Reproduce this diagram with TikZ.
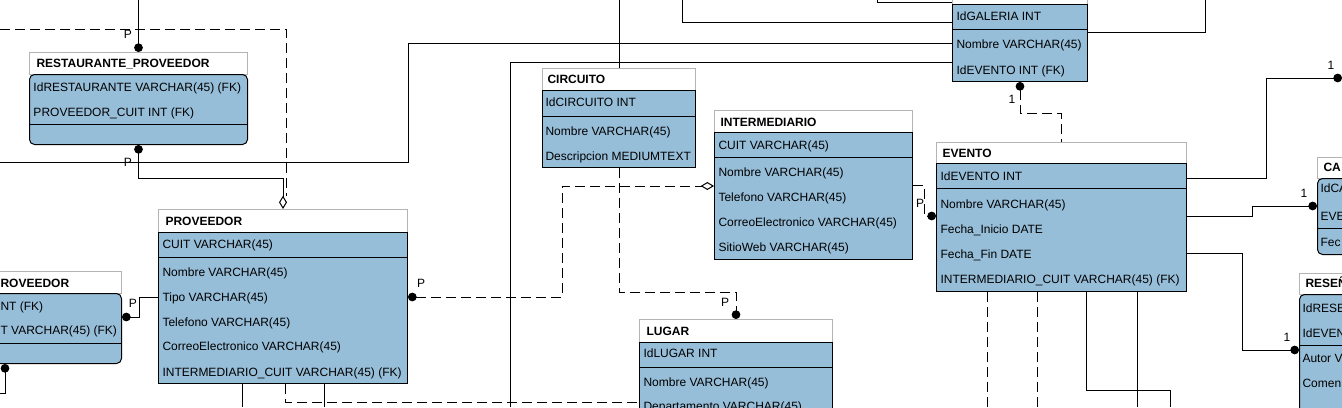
\documentclass[tikz,border=0pt]{standalone}
\usepackage{fontspec}
\setmainfont{Liberation Sans}
\usetikzlibrary{arrows.meta}

\definecolor{tabblue}{RGB}{151,190,217}
\definecolor{headgray}{RGB}{180,180,180}
\newcommand{\pxu}{0.75pt}

\tikzset{
  tabhead/.style={draw=headgray, fill=white, anchor=north west, inner sep=0pt, minimum height=22*\pxu},
  tabbody/.style={draw=black, fill=tabblue, anchor=north west, inner sep=0pt},
  tabtitle/.style={anchor=west, inner sep=0pt, text height=6.5pt, text depth=0pt, font=\fontsize{9}{11}\selectfont\bfseries},
  tabrow/.style={anchor=west, inner sep=0pt, text height=6.5pt, text depth=0pt},
  card/.style={inner sep=0pt, text height=6.5pt, text depth=0pt},
  reldash/.style={dash pattern=on 7.5pt off 3.75pt},
  dotend/.tip={Circle[length=6.5pt]},
  diaend/.tip={Diamond[open,length=10pt,width=6pt]}
}

\begin{document}
\begin{tikzpicture}[x=\pxu, y=-\pxu, line width=0.75pt, every node/.style={font=\fontsize{9}{11}\selectfont}]
\useasboundingbox (0,0) rectangle (1342,407);
\fill[white] (0,0) rectangle (1342,407);
\clip (0,0) rectangle (1342,407);

%tables
\node[tabhead, minimum width=218*\pxu] (rph) at (29,52) {};
\node[tabbody, rounded corners=3.75pt, minimum width=218*\pxu, minimum height=70*\pxu] (rp) at (29,74) {};
\node[tabtitle] (rpt) at (36,63) {RESTAURANTE\_PROVEEDOR};
\node[tabrow] (rp1) at (33,87) {IdRESTAURANTE VARCHAR(45) (FK)};
\node[tabrow] (rp2) at (33,112) {PROVEEDOR\_CUIT INT (FK)};
\draw (rp.west |- 0,124) -- (rp.east |- 0,124);

\node[tabhead, minimum width=221*\pxu] (lph) at (-100,271) {};
\node[tabbody, rounded corners=3.75pt, minimum width=221*\pxu, minimum height=70*\pxu] (lp) at (-100,293) {};
\node[tabtitle] (lpt) at (0,283) {ROVEEDOR};
\node[tabrow] (lp1) at (0,306) {NT (FK)};
\node[tabrow] (lp2) at (0,330) {T VARCHAR(45) (FK)};
\draw (lp.west |- 0,343) -- (lp.east |- 0,343);

\node[tabhead, minimum width=249*\pxu, minimum height=23*\pxu] (pvh) at (158,209) {};
\node[tabbody, minimum width=249*\pxu, minimum height=151*\pxu] (pv) at (158,232) {};
\node[tabtitle] (pvt) at (165,221) {PROVEEDOR};
\node[tabrow] (pv1) at (162,244) {CUIT VARCHAR(45)};
\node[tabrow] (pv2) at (162,272) {Nombre VARCHAR(45)};
\node[tabrow] (pv3) at (162,297) {Tipo VARCHAR(45)};
\node[tabrow] (pv4) at (162,322) {Telefono VARCHAR(45)};
\node[tabrow] (pv5) at (162,346) {CorreoElectronico VARCHAR(45)};
\node[tabrow] (pv6) at (162,372) {INTERMEDIARIO\_CUIT VARCHAR(45) (FK)};
\draw (pv.west |- 0,257) -- (pv.east |- 0,257);

\node[tabhead, minimum width=153*\pxu] (cih) at (542,68) {};
\node[tabbody, minimum width=153*\pxu, minimum height=77*\pxu] (ci) at (542,90) {};
\node[tabtitle] (cit) at (547,79) {CIRCUITO};
\node[tabrow] (ci1) at (545,102) {IdCIRCUITO INT};
\node[tabrow] (ci2) at (545,131) {Nombre VARCHAR(45)};
\node[tabrow] (ci3) at (545,156) {Descripcion MEDIUMTEXT};
\draw (ci.west |- 0,116) -- (ci.east |- 0,116);

\node[tabhead, minimum width=198*\pxu] (imh) at (714,110) {};
\node[tabbody, minimum width=198*\pxu, minimum height=127*\pxu] (im) at (714,132) {};
\node[tabtitle] (imt) at (720,122) {INTERMEDIARIO};
\node[tabrow] (im1) at (718,145) {CUIT VARCHAR(45)};
\node[tabrow] (im2) at (718,172) {Nombre VARCHAR(45)};
\node[tabrow] (im3) at (718,197) {Telefono VARCHAR(45)};
\node[tabrow] (im4) at (718,222) {CorreoElectronico VARCHAR(45)};
\node[tabrow] (im5) at (718,247) {SitioWeb VARCHAR(45)};
\draw (im.west |- 0,157) -- (im.east |- 0,157);

\node[tabhead, minimum width=193*\pxu, minimum height=23*\pxu] (luh) at (639,319) {};
\node[tabbody, minimum width=193*\pxu, minimum height=90*\pxu] (lu) at (639,342) {};
\node[tabtitle] (lut) at (646,331) {LUGAR};
\node[tabrow] (lu1) at (643,353) {IdLUGAR INT};
\node[tabrow] (lu2) at (643,382) {Nombre VARCHAR(45)};
\node[tabrow] (lu3) at (643,406) {Departamento VARCHAR(45)};
\draw (lu.west |- 0,367) -- (lu.east |- 0,367);

\node[tabhead, minimum width=135*\pxu] (gah) at (952,-18) {};
\node[tabbody, minimum width=135*\pxu, minimum height=77*\pxu] (ga) at (952,4) {};
\node[tabrow] (ga1) at (956,16) {IdGALERIA INT};
\node[tabrow] (ga2) at (956,44) {Nombre VARCHAR(45)};
\node[tabrow] (ga3) at (956,70) {IdEVENTO INT (FK)};
\draw (ga.west |- 0,29) -- (ga.east |- 0,29);

\node[tabhead, minimum width=250*\pxu, minimum height=21*\pxu] (evh) at (936,142) {};
\node[tabbody, minimum width=250*\pxu, minimum height=128*\pxu] (ev) at (936,163) {};
\node[tabtitle] (evt) at (942,153) {EVENTO};
\node[tabrow] (ev1) at (940,176) {IdEVENTO INT};
\node[tabrow] (ev2) at (940,204) {Nombre VARCHAR(45)};
\node[tabrow] (ev3) at (940,229) {Fecha\_Inicio DATE};
\node[tabrow] (ev4) at (940,254) {Fecha\_Fin DATE};
\node[tabrow] (ev5) at (940,279) {INTERMEDIARIO\_CUIT VARCHAR(45) (FK)};
\draw (ev.west |- 0,188) -- (ev.east |- 0,188);

\node[tabhead, minimum width=150*\pxu, minimum height=21*\pxu] (cah) at (1317,157) {};
\node[tabbody, rounded corners=3.75pt, minimum width=150*\pxu, minimum height=76*\pxu] (ca) at (1317,178) {};
\node[tabtitle] (cat) at (1323,167) {CA};
\node[tabrow] (ca1) at (1320,188) {IdCA};
\node[tabrow] (ca2) at (1320,216) {EVE};
\node[tabrow] (ca3) at (1320,242) {Fec};
\draw (ca.west |- 0,228) -- (ca.east |- 0,228);

\node[tabhead, minimum width=150*\pxu, minimum height=21*\pxu] (reh) at (1299,273) {};
\node[tabbody, rounded corners=3.75pt, minimum width=150*\pxu, minimum height=136*\pxu] (re) at (1299,294) {};
\node[tabtitle] (ret) at (1305,283) {RESEÑ};
\node[tabrow] (re1) at (1302,308) {IdRESE};
\node[tabrow] (re2) at (1302,333) {IdEVEN};
\node[tabrow] (re3) at (1302,358) {Autor V};
\node[tabrow] (re4) at (1302,383) {Comen};
\draw (re.west |- 0,345) -- (re.east |- 0,345);

%free ends at the border
\coordinate (eA) at (0,29);
\coordinate (eB) at (0,162);
\coordinate (eC) at (510,407);
\coordinate (eD) at (682,0);
\coordinate (eE) at (877,0);
\coordinate (eF) at (1205,0);
\coordinate (eG) at (1342,78);
\coordinate (eH) at (0,393);
\coordinate (bot) at (0,407);

%relations
\draw[dotend-] (rph.north) -- (rph.north |- 0,0);
\draw[dotend-diaend] (rp.south) -- ++(0,33) -| (pvh.north);
\draw[reldash, shorten >=10pt] (eA) -| ([xshift=2.25pt]pvh.north);
\draw (eB) -- (408,162) |- (ga.west |- 0,43);
\draw (eC) |- (ga.west |- 0,62);
\draw (eD) |- (ga.west |- 0,22);
\draw (eE) |- (ga.west |- 0,2);
\draw (ga.east |- 0,32) -| (eF);
\draw (cih.north) -- (cih.north |- 0,0);
\draw[reldash,-dotend] (ci.south) -- ++(0,124) -| (luh.north);
\draw[reldash,dotend-diaend] (pv.east |- pv3) -| (562,186) -- (im.west |- 0,186);
\draw[reldash,-dotend] (im.east |- 0,185) -| (924,216) -- (ev.west |- 0,216);
\draw[dotend-] (lp.east |- 0,317) -| (139,297) -- (pv.west |- pv3);
\draw[dotend-] (lp.south -| 5,0) |- (eH);
\draw (pv.south -| 242,0) -- (bot -| 242,0);
\draw (pv.south -| 324,0) -- (bot -| 324,0);
\draw[reldash] (pv.south -| 285,0) |- (lu.west |- 0,402);
\draw[reldash,dotend-] (ga.south) -- ++(0,31) -| (evh.north);
\draw[-dotend] (ev.east |- 0,178) -| (1266,78) -- (eG);
\draw[-dotend] (ev.east |- 0,216) -| (1252,206) -- (ca.west |- 0,206);
\draw[-dotend] (ev.east |- 0,253) -| (1242,350) -- (re.west |- 0,350);
\draw[reldash] (ev.south -| 987,0) -- (bot -| 987,0);
\draw[reldash] (ev.south -| 1037,0) -- (bot -| 1037,0);
\draw (ev.south -| 1086,0) |- (1170,390) -- (bot -| 1170,0);
\draw (ev.south -| 1137,0) -- (bot -| 1137,0);

%cardinalities
\node[card] (c1) at (128,34) {P};
\node[card] (c2) at (128,162) {P};
\node[card] (c3) at (133,303) {P};
\node[card] (c4) at (421,283) {P};
\node[card] (c5) at (725,302) {P};
\node[card] (c6) at (920,203) {P};
\node[card] (c7) at (1012,99) {1};
\node[card] (c8) at (1331,65) {1};
\node[card] (c9) at (1304,193) {1};
\node[card] (c10) at (1287,337) {1};
\end{tikzpicture}
\end{document}
